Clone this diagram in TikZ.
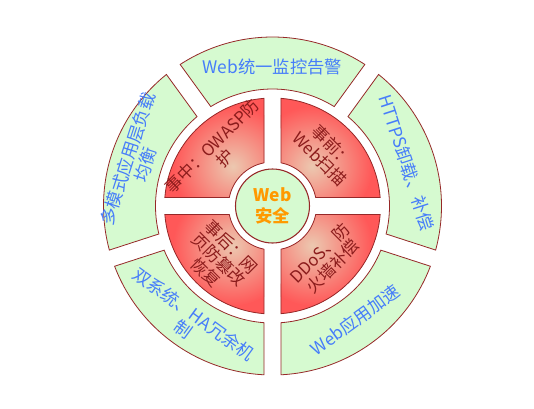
\documentclass[tikz,border=0pt]{standalone}
\usepackage{fontspec}
\setmainfont{Liberation Sans}
\newfontfamily\cjk{Noto Sans CJK SC}
\usepackage{xcolor}

\definecolor{ringgreen}{RGB}{214,250,208}
\definecolor{ringedge}{RGB}{150,40,40}
\definecolor{quadred}{RGB}{255,88,88}
\definecolor{quadlight}{RGB}{236,200,176}
\definecolor{outertext}{RGB}{70,125,250}
\definecolor{innertext}{RGB}{140,28,28}
\definecolor{coretext}{RGB}{255,153,0}

% ring piece with straight gaps: start angle, end angle, inner r, outer r, half gap
\newcommand{\ringsector}[5]{({#1+asin(#5/#3)}:#3) -- ({#1+asin(#5/#4)}:#4) arc[start angle={#1+asin(#5/#4)}, end angle={#2-asin(#5/#4)}, radius=#4] -- ({#2-asin(#5/#3)}:#3) arc[start angle={#2-asin(#5/#3)}, end angle={#1+asin(#5/#3)}, radius=#3] -- cycle}

\begin{document}
\begin{tikzpicture}[x=0.75pt,y=0.75pt,
  outerseg/.style={draw=ringedge, line width=0.6pt, fill=ringgreen},
  innerseg/.style={draw=ringedge, line width=0.6pt},
  outerlabel/.style={text=outertext, inner sep=0pt, align=center, font=\cjk\fontsize{13}{14}\selectfont},
  innerlabel/.style={text=innertext, inner sep=0pt, align=center, font=\cjk\fontsize{12.5}{13.5}\selectfont}]
\useasboundingbox (-272.5,-202) rectangle (261.5,206);

%Shape: Outer Ring
\foreach \a in {-18,54,126,198,270}
  \draw[outerseg] \ringsector{\a}{\a+72}{117}{169}{8.5};

%Shape: Inner Quadrants
\foreach \a in {0,90,180,270}{
  \fill[quadred] \ringsector{\a}{\a+90}{44}{108}{8.5};
  \begin{scope}
    \clip \ringsector{\a}{\a+90}{44}{108}{8.5};
    \shade[inner color=quadlight, outer color=quadred] ({\a+45}:56) circle (60);
  \end{scope}
  \draw[innerseg] \ringsector{\a}{\a+90}{44}{108}{8.5};
}

%Shape: Circle
\draw[draw=ringedge, line width=0.8pt, fill=ringgreen] (0,0) circle (37);

% Text Node
\node[text=coretext, inner sep=0pt, align=center, font=\cjk\bfseries\fontsize{13}{16}\selectfont] (core) at (0,0) {Web\\安全};
% Text Node
\node[outerlabel] (monitor) at (90:139) {Web统一监控告警};
% Text Node
\node[outerlabel, rotate=-72] (https) at (18:141) {HTTPS卸载、补偿};
% Text Node
\node[outerlabel, rotate=36] (speedup) at (306:141) {Web应用加速};
% Text Node
\node[outerlabel, rotate=-36] (hasys) at (234:143) {双系统、HA冗余机\\制};
% Text Node
\node[outerlabel, rotate=72] (balance) at (162:143) {多模式应用层负载\\均衡};
% Text Node
\node[innerlabel, rotate=45] (during) at (135:76) {事中：OWASP防\\护};
% Text Node
\node[innerlabel, rotate=-45] (before) at (45:76) {事前：\\Web扫描};
% Text Node
\node[innerlabel, rotate=-45] (after) at (225:76) {事后：网\\页防篡改\\恢复};
% Text Node
\node[innerlabel, rotate=45] (ddos) at (315:76) {DDoS、防\\火墙补偿};

\end{tikzpicture}
\end{document}
